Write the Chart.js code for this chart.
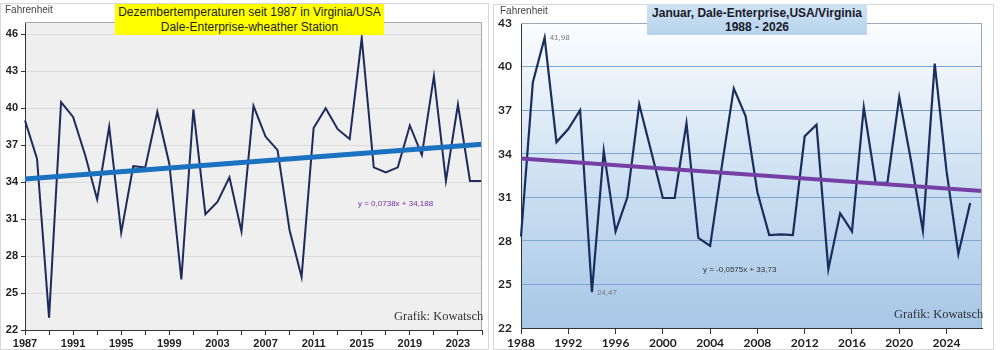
<!DOCTYPE html>
<html>
<head>
<meta charset="utf-8">
<script src="https://cdn.jsdelivr.net/npm/chart.js@4.4.1/dist/chart.umd.min.js"></script>
<style>
  body { margin: 0; width: 1000px; height: 350px; overflow: hidden; background: #fff; font-family: "Liberation Sans", Arial, sans-serif; }
  canvas { position: absolute; top: 0; }
  #chart-dec { left: 0; }
  #chart-jan { left: 490px; }
  .frame { position: absolute; border: 1px solid #d8d8d8; }
  .note { position: absolute; white-space: nowrap; transform: translateY(-50%); }
  .box { position: absolute; text-align: center; white-space: nowrap; }
</style>
</head>
<body>
<div class="frame" style="left:0;top:3px;width:487px;height:345px"></div>
<div class="frame" style="left:493px;top:4px;width:499px;height:344px"></div>

<canvas id="chart-dec" width="490" height="350"></canvas>
<canvas id="chart-jan" width="510" height="350"></canvas>

<div class="note" style="left:5px;top:9px;font-size:10px;color:#444">Fahrenheit</div>
<div class="box" style="left:115px;top:4px;width:269px;height:31px;background:#ffff00;font-size:12px;line-height:15px;color:#222;padding-top:1px;box-sizing:border-box">Dezembertemperaturen seit 1987 in Virginia/USA<br>Dale-Enterprise-wheather Station</div>
<div class="note" style="left:358px;top:203px;font-size:8px;color:#7030a0">y = 0,0738x + 34,188</div>
<div class="note" style="left:394px;top:316px;font-size:12.5px;color:#333;font-family:'Liberation Serif',serif">Grafik: Kowatsch</div>

<div class="note" style="left:500px;top:10px;font-size:10px;color:#444">Fahrenheit</div>
<div class="box" style="left:647px;top:4px;width:220px;height:31px;background:linear-gradient(#cfe2f3,#b7d3ec);font-size:12px;font-weight:bold;line-height:14px;color:#1a1a2a;padding-top:2px;box-sizing:border-box">Januar, Dale-Enterprise,USA/Virginia<br>1988 - 2026</div>
<div class="note" style="left:703px;top:269px;font-size:8px;color:#333">y = -0,0575x + 33,73</div>
<div class="note" style="left:894px;top:314px;font-size:12.5px;color:#333;font-family:'Liberation Serif',serif">Grafik: Kowatsch</div>

<script>
// December, 1987 - 2025
const decYears = ['1987','1988','1989','1990','1991','1992','1993','1994','1995','1996',
  '1997','1998','1999','2000','2001','2002','2003','2004','2005','2006',
  '2007','2008','2009','2010','2011','2012','2013','2014','2015','2016',
  '2017','2018','2019','2020','2021','2022','2023','2024','2025'];
const decTemps = [39.0, 35.9, 23.0, 40.5, 39.3, 36.2, 32.6, 38.5, 29.9, 35.3,
  35.2, 39.7, 35.5, 26.1, 39.9, 31.4, 32.4, 34.4, 30.0, 40.2,
  37.7, 36.6, 30.1, 26.3, 38.4, 40.0, 38.3, 37.5, 45.7, 35.2,
  34.8, 35.2, 38.6, 36.2, 42.6, 34.1, 40.3, 34.1, 34.1];
const decTicks = [22, 25, 28, 31, 34, 37, 40, 43, 46];
// trendline y = 0,0738x + 34,188 (endpoints)
const decTrend = [{ x: '1987', y: 34.26 }, { x: '2025', y: 37.07 }];

// January, 1988 - 2026 (axis runs one year further)
const janYears = ['1988','1989','1990','1991','1992','1993','1994','1995','1996','1997',
  '1998','1999','2000','2001','2002','2003','2004','2005','2006','2007',
  '2008','2009','2010','2011','2012','2013','2014','2015','2016','2017',
  '2018','2019','2020','2021','2022','2023','2024','2025','2026','2027'];
const janTemps = [28.3, 38.9, 41.98, 34.8, 35.7, 37.0, 24.47, 34.2, 28.65, 31.0,
  37.4, 34.2, 30.95, 30.95, 36.1, 28.2, 27.65, 33.2, 38.5, 36.6,
  31.35, 28.4, 28.45, 28.4, 35.2, 36.0, 26.05, 29.9, 28.65, 37.2,
  32.0, 32.0, 37.9, 33.5, 28.7, 40.2, 32.8, 27.1, 30.6];
const janTicks = [22, 25, 28, 31, 34, 37, 40, 43];
// trendline y = -0,0575x + 33,73 (endpoints)
const janTrend = [{ x: '1988', y: 33.67 }, { x: '2027', y: 31.43 }];

// fills plot area and draws top / right border
const plotFrame = {
  id: 'plotFrame',
  beforeDraw(chart, args, opts) {
    const a = chart.chartArea, ctx = chart.ctx;
    ctx.save();
    if (opts.gradient) {
      const g = ctx.createLinearGradient(0, a.top, 0, a.bottom);
      g.addColorStop(0, '#fbfdff');
      g.addColorStop(0.5, '#cfe1f2');
      g.addColorStop(1, '#a7c7e7');
      ctx.fillStyle = g;
    } else {
      ctx.fillStyle = opts.fill;
    }
    ctx.fillRect(a.left, a.top, a.right - a.left, a.bottom - a.top);
    ctx.restore();
  },
  afterDraw(chart, args, opts) {
    const a = chart.chartArea, ctx = chart.ctx;
    ctx.save();
    ctx.strokeStyle = opts.border;
    ctx.lineWidth = 1;
    ctx.beginPath();
    ctx.moveTo(a.left, a.top + 0.5);
    ctx.lineTo(a.right - 0.5, a.top + 0.5);
    ctx.lineTo(a.right - 0.5, a.bottom);
    ctx.stroke();
    ctx.restore();
  }
};

// min / max value labels
const extremeLabels = {
  id: 'extremeLabels',
  afterDatasetsDraw(chart, args, opts) {
    if (!opts.show) return;
    const values = chart.data.datasets[0].data;
    const meta = chart.getDatasetMeta(0);
    const hi = values.indexOf(Math.max(...values));
    const lo = values.indexOf(Math.min(...values));
    const ctx = chart.ctx;
    ctx.save();
    ctx.font = '8px "Liberation Sans", Arial';
    ctx.fillStyle = '#777';
    ctx.textBaseline = 'middle';
    [[hi, 0], [lo, 1]].forEach(([i, dy]) => {
      const p = meta.data[i];
      ctx.fillText(values[i].toFixed(2).replace('.', ','), p.x + 5, p.y + dy);
    });
    ctx.restore();
  }
};

function newChart(id, o) {
  return new Chart(id, {
    type: 'line',
    data: {
      labels: o.labels,
      datasets: [{
        data: o.temps,
        borderColor: o.lineColor,
        borderWidth: o.lineWidth,
        pointRadius: 0,
        tension: 0,
        order: 2
      }, {
        data: o.trend,
        borderColor: o.trendColor,
        borderWidth: o.trendWidth,
        pointRadius: 0,
        order: 1
      }]
    },
    options: {
      responsive: false,
      animation: false,
      events: [],
      layout: { autoPadding: false, padding: o.padding },
      plugins: {
        legend: { display: false },
        tooltip: { enabled: false },
        plotFrame: o.frame,
        extremeLabels: { show: o.extremes }
      },
      scales: {
        x: {
          offset: false,
          border: { color: '#333', width: 1 },
          grid: {
            drawOnChartArea: false,
            tickLength: o.xTickLength,
            color: ctx => ctx.index % o.xTickEvery === 0 ? '#333' : 'rgba(0,0,0,0)'
          },
          ticks: {
            autoSkip: false,
            maxRotation: 0,
            padding: 2,
            color: '#222',
            font: o.tickFont,
            callback: function (v, i) { return i % 4 === 0 ? this.getLabelForValue(v) : ''; }
          },
          afterFit: s => { s.height = o.xHeight; }
        },
        y: {
          min: 22,
          max: o.yMax,
          border: { color: '#333', width: 1 },
          grid: {
            color: o.gridColor,
            tickColor: '#333',
            drawTicks: o.yTicks,
            tickLength: 4
          },
          ticks: {
            padding: o.yPad,
            color: '#222',
            font: o.tickFont
          },
          afterBuildTicks: s => { s.ticks = o.yTickValues.map(v => ({ value: v })); },
          afterFit: s => { s.width = o.yWidth; }
        }
      }
    },
    plugins: [plotFrame, extremeLabels]
  });
}

// December chart
newChart('chart-dec', {
  labels: decYears,
  temps: decTemps,
  trend: decTrend,
  lineColor: '#1c2b5c',
  lineWidth: 2,
  trendColor: '#1a72c0',
  trendWidth: 5,
  padding: { top: 22, right: 8, left: 0, bottom: 0 },
  frame: { fill: '#efefef', border: '#a8a8a8' },
  extremes: false,
  gridColor: '#dadada',
  xTickEvery: 2,
  xTickLength: 5,
  xHeight: 20,
  yMax: 47,
  yTickValues: decTicks,
  yTicks: true,
  yPad: 3,
  yWidth: 25,
  tickFont: { family: '"Liberation Sans", Arial', size: 11, weight: 'bold' }
});

// January chart
newChart('chart-jan', {
  labels: janYears,
  temps: janTemps,
  trend: janTrend,
  lineColor: '#1b2c5e',
  lineWidth: 2.2,
  trendColor: '#7440a4',
  trendWidth: 4,
  padding: { top: 23, right: 18, left: 0, bottom: 0 },
  frame: { gradient: true, border: '#9aa8b8' },
  extremes: true,
  gridColor: '#7ea6cf',
  xTickEvery: 4,
  xTickLength: 6,
  xHeight: 22,
  yMax: 43,
  yTickValues: janTicks,
  yTicks: false,
  yPad: 9,
  yWidth: 31,
  tickFont: { family: 'Lato, "Liberation Sans", Arial', size: 12, weight: 'bold' }
});
</script>
</body>
</html>
